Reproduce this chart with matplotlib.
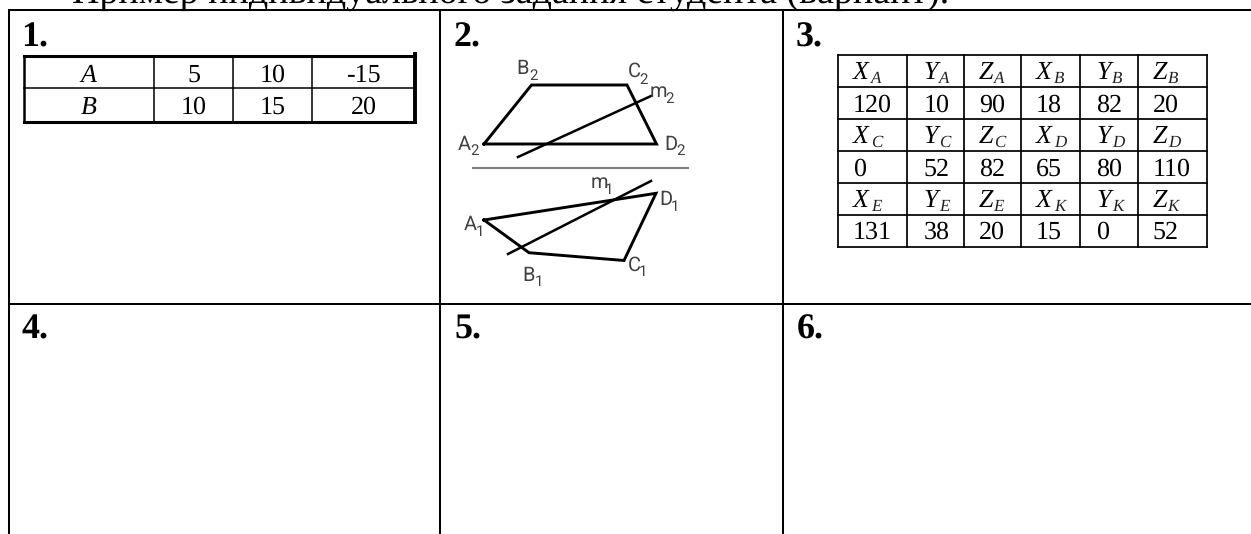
import matplotlib
matplotlib.use("Agg")
import matplotlib.pyplot as plt

W, H = 1251, 534

plt.rcParams['font.family'] = ['Liberation Serif', 'DejaVu Serif']
plt.rcParams['text.hinting'] = 'none'
plt.rcParams['text.hinting_factor'] = 1

heading = "Пример индивидуального задания студента (вариант)."
cell_labels = ["1.", "2.", "3.", "4.", "5.", "6."]

table1_rows = [["A", "5", "10", "-15"], ["B", "10", "15", "20"]]

table3_rows = [
    ["X_A", "Y_A", "Z_A", "X_B", "Y_B", "Z_B"],
    ["120", "10", "90", "18", "82", "20"],
    ["X_C", "Y_C", "Z_C", "X_D", "Y_D", "Z_D"],
    ["0", "52", "82", "65", "80", "110"],
    ["X_E", "Y_E", "Z_E", "X_K", "Y_K", "Z_K"],
    ["131", "38", "20", "15", "0", "52"],
]

# sketch in reference pixels
front_poly = [(484, 144), (531.5, 85), (627, 85), (656.5, 144), (484, 144)]
top_poly = [(484, 220), (529, 252.7), (624, 260.5), (656, 193.3), (484, 220)]
m_front = [(518, 157), (651, 96)]
m_top = [(508, 254), (651, 181)]
axis_line = [(473, 167.5), (688, 167.5)]
sketch_letters = ["B", "C", "m", "A", "D", "m", "D", "A", "B", "C"]
sketch_subs = ["2", "2", "2", "2", "2", "1", "1", "1", "1", "1"]
letter_xy = [(523, 74), (634, 77), (658, 97), (464, 150), (671, 150),
             (599, 188), (666, 205), (470, 230), (529, 281), (634, 271)]
sub_xy = [(534, 80), (644, 84), (670, 103), (475, 155), (681, 155),
          (609, 194), (675, 211), (480, 236), (539, 286), (643, 276)]

fig = plt.figure(figsize=(W / 100, H / 100), dpi=100)
ax = fig.add_axes([0, 0, 1, 1])
ax.set_xlim(0, W)
ax.set_ylim(H, 0)
ax.axis("off")


def line(x0, y0, x1, y1, lw=1.45, color="black"):
    ax.plot([x0, x1], [y0, y1], color=color, lw=lw, solid_capstyle="projecting")


# outer grid
for x in [8.5, 440, 783]:
    line(x, 10.3, x, H + 2)
line(8.5, 10.3, W + 2, 10.3)
line(8.5, 303.5, W + 2, 303.5)

ax.text(72, 2.5, heading, fontsize=27.4, ha="left", va="baseline")

label_pos = [(21.5, 46), (453.5, 46), (796, 46), (21, 338), (455, 338), (797, 338)]
for s, (x, y) in zip(cell_labels, label_pos):
    ax.text(x, y, s, fontsize=26, fontweight="bold", ha="left", va="baseline")

# table 1
t1_x = [23.5, 154, 233.3, 312, 415]
t1_y = [56, 88.3, 121.7]
t1_base = [82, 113.5]
for x in t1_x[1:-1]:
    line(x, t1_y[0], x, t1_y[-1], lw=1.1)
line(t1_x[0], t1_y[1], t1_x[-1], t1_y[1], lw=1.1)
line(t1_x[0], t1_y[0], t1_x[-1], t1_y[0], lw=2.2)
line(t1_x[0], t1_y[-1], t1_x[-1], t1_y[-1], lw=2.2)
line(t1_x[0], t1_y[0], t1_x[0], t1_y[-1], lw=1.8)
line(t1_x[-1], t1_y[0] - 2, t1_x[-1], t1_y[-1], lw=2.8)
for r, row in enumerate(table1_rows):
    for c, s in enumerate(row):
        ax.text((t1_x[c] + t1_x[c + 1]) / 2, t1_base[r], s, fontsize=18.5,
                ha="center", va="baseline", style="italic" if c == 0 else "normal")

# table 3
t3_x = [838, 907, 963.7, 1020.7, 1080, 1138, 1207]
t3_y = [55, 87, 119, 151, 183, 215, 246.7]
t3_pad = [15, 16.5, 15, 15.5, 16.5, 14.7]
sub_shift = {"X": 18, "Y": 15.5, "Z": 15}
for x in t3_x:
    line(x, t3_y[0], x, t3_y[-1], lw=1.25)
for y in t3_y:
    line(t3_x[0], y, t3_x[-1], y, lw=1.25)
for r, row in enumerate(table3_rows):
    for c, s in enumerate(row):
        x = t3_x[c] + t3_pad[c]
        y = t3_y[r + 1] - 7.6
        if "_" in s:
            ax.text(x, y, s[0], fontsize=19, style="italic", ha="left", va="baseline")
            ax.text(x + sub_shift[s[0]], y + 3.5, s[2], fontsize=12, style="italic",
                    ha="left", va="baseline", color="#222222")
        else:
            ax.text(x, y, s, fontsize=19, ha="left", va="baseline")

# sketch
for poly in (front_poly, top_poly):
    ax.plot([p[0] for p in poly], [p[1] for p in poly], color="black", lw=2.1,
            solid_joinstyle="miter")
for seg in (m_front, m_top):
    ax.plot([p[0] for p in seg], [p[1] for p in seg], color="black", lw=1.8)
ax.plot([p[0] for p in axis_line], [p[1] for p in axis_line], color="#808080", lw=1.5)
for ch, sub, pos, spos in zip(sketch_letters, sketch_subs, letter_xy, sub_xy):
    ax.text(pos[0], pos[1], ch, fontsize=14.5, family="Roboto", color="#404040",
            ha="center", va="baseline")
    ax.text(spos[0], spos[1], sub, fontsize=11, family="Roboto", color="#404040",
            ha="center", va="baseline")

fig.savefig("out.png", dpi=100)
